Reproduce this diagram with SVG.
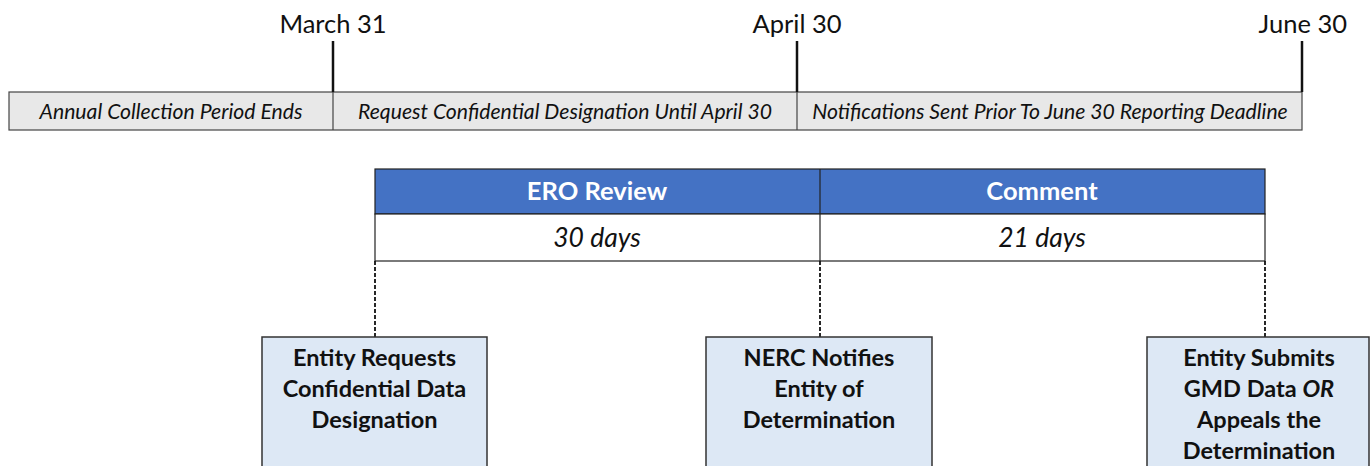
<svg xmlns="http://www.w3.org/2000/svg" width="1372" height="466" viewBox="0 0 1372 466">
<style>
text{font-family:Lato,"Open Sans","Liberation Sans",sans-serif;fill:#111}
.date{font-size:25.5px}
.seg{font-size:21.2px;font-style:italic}
.hdr{font-size:25.5px;font-weight:bold;fill:#fff}
.dur{font-size:26.5px;font-style:italic}
.box{fill:#dde8f5;stroke:#333;stroke-width:1.5}
.bt{font-size:23.5px;font-weight:bold}
.tick{stroke:#111;stroke-width:2.5}
.dash{stroke:#111;stroke-width:1.8;stroke-dasharray:4,2;fill:none}
</style>
<g id="timeline">
<rect x="9" y="92" width="1293" height="38" fill="#e8e8e8" stroke="#444" stroke-width="1.2"/>
<line x1="333" y1="92" x2="333" y2="130" stroke="#444" stroke-width="1.2"/>
<line x1="797" y1="92" x2="797" y2="130" stroke="#444" stroke-width="1.2"/>
<line class="tick" x1="333" y1="41" x2="333" y2="92"/>
<line class="tick" x1="797" y1="41" x2="797" y2="92"/>
<line class="tick" x1="1302" y1="41" x2="1302" y2="92"/>
<text class="date" x="333" y="33" text-anchor="middle">March 31</text>
<text class="date" x="797" y="33" text-anchor="middle">April 30</text>
<text class="date" x="1347" y="33" text-anchor="end">June 30</text>
<text class="seg" x="171" y="119" text-anchor="middle">Annual Collection Period Ends</text>
<text class="seg" x="565" y="119" text-anchor="middle">Request Confidential Designation Until April 30</text>
<text class="seg" x="1050" y="119" text-anchor="middle">Notifications Sent Prior To June 30 Reporting Deadline</text>
</g>
<g id="table">
<rect x="375" y="169" width="890" height="45" fill="#4472c4" stroke="#222" stroke-width="1.2"/>
<rect x="375" y="214" width="890" height="47" fill="#fff" stroke="#222" stroke-width="1.2"/>
<line x1="820" y1="169" x2="820" y2="261" stroke="#222" stroke-width="1.2"/>
<text class="hdr" x="597" y="200" text-anchor="middle">ERO Review</text>
<text class="hdr" x="1042" y="200" text-anchor="middle">Comment</text>
<text class="dur" x="597" y="247" text-anchor="middle">30 days</text>
<text class="dur" x="1042" y="247" text-anchor="middle">21 days</text>
</g>
<g id="connectors">
<line class="dash" x1="375" y1="261" x2="375" y2="337"/>
<line class="dash" x1="820" y1="261" x2="820" y2="337"/>
<line class="dash" x1="1265" y1="261" x2="1265" y2="337"/>
</g>
<g id="node1">
<rect class="box" x="262" y="337" width="225" height="140"/>
<text class="bt" x="374.5" y="366" text-anchor="middle">Entity Requests</text>
<text class="bt" x="374.5" y="397" text-anchor="middle">Confidential Data</text>
<text class="bt" x="374.5" y="428" text-anchor="middle">Designation</text>
</g>
<g id="node2">
<rect class="box" x="706" y="337" width="226" height="140"/>
<text class="bt" x="819" y="366" text-anchor="middle">NERC Notifies</text>
<text class="bt" x="819" y="397" text-anchor="middle">Entity of</text>
<text class="bt" x="819" y="428" text-anchor="middle">Determination</text>
</g>
<g id="node3">
<rect class="box" x="1147" y="337" width="222" height="140"/>
<text class="bt" x="1259" y="366" text-anchor="middle">Entity Submits</text>
<text class="bt" x="1259" y="397" text-anchor="middle">GMD Data <tspan font-style="italic">OR</tspan></text>
<text class="bt" x="1259" y="428" text-anchor="middle">Appeals the</text>
<text class="bt" x="1259" y="459" text-anchor="middle">Determination</text>
</g>
</svg>
